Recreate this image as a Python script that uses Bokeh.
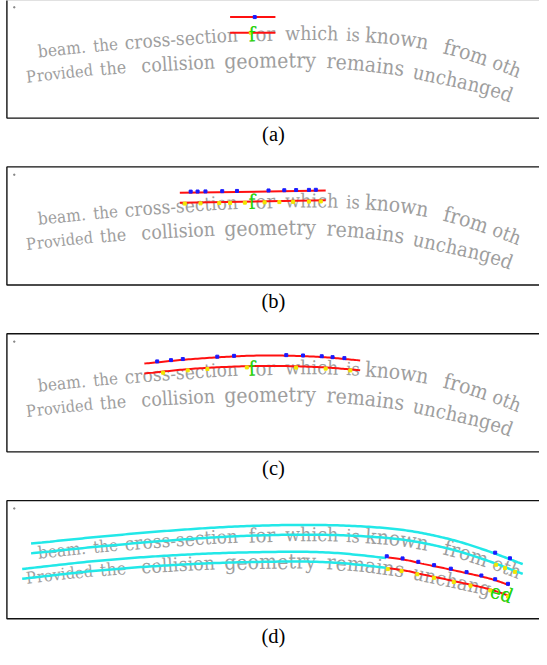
import numpy as np
from bokeh.plotting import figure
from bokeh.models import Range1d, ColumnDataSource
from bokeh.embed import file_html
from bokeh.resources import INLINE
from bokeh.core.properties import value

# ---------------- data (reference pixel coords) ----------------
WORDS1 = ["beam.", "the", "cross-section", "for", "which", "is", "known", "from", "oth"]
WORDS1_X = [38, 94, 126, 252, 289, 351, 370, 450, 500]
WORDS1_PX = [17.5, 17.2, 19.3, 20.5, 19.8, 18.5, 21.5, 21.5, 20]
WORDS2 = ["Provided", "the", "collision", "geometry", "remains", "unchanged"]
WORDS2_X = [26, 101, 143, 227, 331, 419]
WORDS2_PX = [16.6, 18, 19.8, 21.5, 21.5, 20.5]
CAPTIONS = ["(a)", "(b)", "(c)", "(d)"]

# panel frames: top and bottom edge of each framed panel
PANEL_TOP = [-1.0, 170.5, 341.5, 512.5]
PANEL_BOTTOM = [120.5, 291.5, 462.5, 633.5]
CAPTION_Y = [137, 308, 479, 651]
CAPTION_X = 277

# text baselines (x px, y px below panel top)
L1_X = [31, 100, 175, 250, 330, 400, 450, 490, 530]
L1_Y = [54, 47, 40.5, 36, 35, 39, 48, 60, 75]
L2_X = [22, 100, 175, 250, 330, 400, 430, 463, 497, 520]
L2_Y = [80, 71.5, 66, 63, 63, 70, 76, 83, 91, 99]

# (a) detected band: two straight red lines
A_RED_X = [233, 279]
A_RED_UP = [18, 18]
A_RED_LO = [34, 34]
A_BLUE = ([258], [18])
A_YEL = ([254], [34])

# (b) detected band
B_RED_X = [182, 330]
B_RED_UP = [26.5, 24.3]
B_RED_LO = [36.7, 34.3]
B_BLUE_X = [193, 200, 208, 225, 240, 272, 288, 300, 313, 320]
B_YEL_X = [187, 203, 222, 233, 248, 268, 283, 297, 313, 325]

# (c) detected band (curved)
C_RED_X = [146, 200, 262, 320, 365]
C_RED_UP = [30.5, 25.5, 22.3, 23.5, 27.3]
C_RED_LO = [40.7, 35.5, 33.0, 34.0, 37.3]
C_BLUE_X = [159, 173, 185, 220, 237, 290, 307, 326, 337, 349]
C_YEL_X = [165, 190, 210, 250, 300, 330, 355]

# (d) cyan lines for both text lines, red band at the end of line 2
D_CYAN1 = (31, 530)
D_CYAN2 = (22, 392)
D_RED2 = (392, 517)
D_BLUE_X = [392, 408, 424, 440, 457, 473, 488, 502, 515]
D_YEL_X = [393, 407, 423, 440, 460, 477, 497, 515]
D_BLUE1_X = [502, 517]
D_YEL1_X = [503, 512, 522]

# DejaVu Serif advance widths (em); condensed face is ~0.9 as wide
W = {'.': .318, '-': .338, 'a': .596, 'b': .640, 'c': .560, 'd': .640,
     'e': .592, 'f': .370, 'g': .640, 'h': .644, 'i': .320, 'k': .610, 'l': .320,
     'm': .948, 'n': .644, 'o': .602, 'r': .478, 's': .513, 't': .402, 'u': .644,
     'v': .565, 'w': .856, 'y': .565, 'P': .733}
CONDENSED = 0.9

REF_W, REF_H = 547, 665
FIG_W, FIG_H = 539, 649
K = FIG_H / REF_H  # screen px per reference px

GREY = "#9e9e9e"
RED = "#ff1010"
BLUE = "#1a1aff"
YEL = "#f2e600"
CYAN = "#22e8e8"
GREEN = "#22dd00"
FONT = value("DejaVu Serif Condensed")


def smooth(xs, ys):
    P = np.column_stack([xs, ys]).astype(float)
    P = np.vstack([2 * P[0] - P[1], P, 2 * P[-1] - P[-2]])
    out = []
    for i in range(1, len(P) - 2):
        p0, p1, p2, p3 = P[i - 1], P[i], P[i + 1], P[i + 2]
        for t in np.linspace(0, 1, 25, endpoint=False):
            t2, t3 = t * t, t * t * t
            out.append(0.5 * (2 * p1 + (-p0 + p2) * t + (2 * p0 - 5 * p1 + 4 * p2 - p3) * t2
                              + (-p0 + 3 * p1 - 3 * p2 + p3) * t3))
    out.append(P[-2])
    a = np.array(out)
    return a[:, 0], a[:, 1]


C1X, C1Y = smooth(L1_X, L1_Y)
C2X, C2Y = smooth(L2_X, L2_Y)
S1 = np.gradient(C1Y, C1X)
S2 = np.gradient(C2Y, C2X)


def layout(words, starts, sizes, cx, cy, sl):
    rows = dict(x=[], y=[], a=[], t=[], fs=[], w=[])
    for wi, (word, x, size) in enumerate(zip(words, starts, sizes)):
        x = float(x)
        for ch in word:
            th = np.arctan(np.interp(x, cx, sl))
            rows["x"].append(x)
            rows["y"].append(float(np.interp(x, cx, cy)))
            rows["a"].append(-th)
            rows["t"].append(ch)
            rows["fs"].append(f"{size * K:.2f}px")
            rows["w"].append(wi)
            x += W.get(ch, 0.6) * CONDENSED * size * np.cos(th)
    return {k: np.array(v) if k in ("x", "y", "a", "w") else v for k, v in rows.items()}


T1 = layout(WORDS1, WORDS1_X, WORDS1_PX, C1X, C1Y, S1)
T2 = layout(WORDS2, WORDS2_X, WORDS2_PX, C2X, C2Y, S2)

p = figure(width=FIG_W, height=FIG_H, x_range=Range1d(0, REF_W), y_range=Range1d(REF_H, 0),
           output_backend="svg", toolbar_location=None, min_border=0,
           x_axis_location=None, y_axis_location=None)
p.grid.visible = False
p.outline_line_color = None
p.background_fill_color = "white"
p.border_fill_color = "white"

# frames
p.quad(left=[6.5] * 4, right=[600] * 4, top=PANEL_TOP, bottom=PANEL_BOTTOM,
       fill_color=None, line_color="#111111", line_width=1.4)
# tiny speck in corner of each panel
p.scatter(x=[14] * 4, y=[t + 8 for t in PANEL_TOP], size=1.2, marker="square",
          color="#888888")
# captions
p.text(x=[CAPTION_X] * 4, y=CAPTION_Y, text=CAPTIONS,
       text_font=value("Liberation Serif"), text_font_size=f"{21 * K:.1f}px",
       text_color="black", text_align="center", text_baseline="middle")


def sub(T, idx, top):
    return dict(x=T["x"][idx], y=T["y"][idx] + top, a=T["a"][idx],
                t=[T["t"][i] for i in idx], fs=[T["fs"][i] for i in idx])


fi = [int(np.where(T1["w"] == WORDS1.index("for"))[0][0])]
ed = list(range(len(T2["t"]) - 2, len(T2["t"])))

for k, top in enumerate(PANEL_TOP):
    for T in (T1, T2):
        idx = list(range(len(T["t"])))
        p.text(x="x", y="y", angle="a", text="t", text_font_size="fs",
               source=ColumnDataSource(sub(T, idx, top)), text_font=FONT,
               text_color=GREY, text_align="left", text_baseline="alphabetic")

    if k == 0:
        for yy in (A_RED_UP, A_RED_LO):
            p.line(A_RED_X, [v + top for v in yy], line_color=RED, line_width=2)
        p.scatter(A_BLUE[0], [v + top for v in A_BLUE[1]], size=3, marker="square", color=BLUE)
        p.scatter(A_YEL[0], [v + top for v in A_YEL[1]], size=3, marker="square", color=YEL)
    elif k == 1:
        for yy in (B_RED_UP, B_RED_LO):
            p.line(B_RED_X, [v + top for v in yy], line_color=RED, line_width=2)
        p.scatter(B_BLUE_X, np.interp(B_BLUE_X, B_RED_X, B_RED_UP) + top - 1, size=3,
                  marker="square", color=BLUE)
        p.scatter(B_YEL_X, np.interp(B_YEL_X, B_RED_X, B_RED_LO) + top + 1, size=3,
                  marker="square", color=YEL)
    elif k == 2:
        for yy in (C_RED_UP, C_RED_LO):
            cx, cy = smooth(C_RED_X, yy)
            p.line(cx, cy + top, line_color=RED, line_width=2)
        p.scatter(C_BLUE_X, np.interp(C_BLUE_X, C_RED_X, C_RED_UP) + top - 1, size=3,
                  marker="square", color=BLUE)
        p.scatter(C_YEL_X, np.interp(C_YEL_X, C_RED_X, C_RED_LO) + top + 1, size=3,
                  marker="square", color=YEL)
    else:
        m1 = (C1X >= D_CYAN1[0]) & (C1X <= D_CYAN1[1])
        p.line(C1X[m1], C1Y[m1] + top - 10, line_color=CYAN, line_width=2.5)
        p.line(C1X[m1], C1Y[m1] + top, line_color=CYAN, line_width=2.5)
        m2 = (C2X >= D_CYAN2[0]) & (C2X <= D_CYAN2[1])
        p.line(C2X[m2], C2Y[m2] + top - 10, line_color=CYAN, line_width=2.5)
        p.line(C2X[m2], C2Y[m2] + top, line_color=CYAN, line_width=2.5)
        m3 = (C2X >= D_RED2[0]) & (C2X <= D_RED2[1])
        p.line(C2X[m3], C2Y[m3] + top - 11, line_color=RED, line_width=2)
        p.line(C2X[m3], C2Y[m3] + top, line_color=RED, line_width=2)
        p.scatter(D_BLUE_X, np.interp(D_BLUE_X, C2X, C2Y) + top - 12, size=3,
                  marker="square", color=BLUE)
        p.scatter(D_YEL_X, np.interp(D_YEL_X, C2X, C2Y) + top + 1, size=3,
                  marker="square", color=YEL)
        p.scatter(D_BLUE1_X, np.interp(D_BLUE1_X, C1X, C1Y) + top - 11, size=3,
                  marker="square", color=BLUE)
        p.scatter(D_YEL1_X, np.interp(D_YEL1_X, C1X, C1Y) + top + 1, size=3,
                  marker="square", color=YEL)
        p.text(x="x", y="y", angle="a", text="t", text_font_size="fs",
               source=ColumnDataSource(sub(T2, ed, top)), text_font=FONT,
               text_color=GREEN, text_align="left", text_baseline="alphabetic")

    if k < 3:
        p.text(x="x", y="y", angle="a", text="t", text_font_size="fs",
               source=ColumnDataSource(sub(T1, fi, top)), text_font=FONT,
               text_color=GREEN, text_align="left", text_baseline="alphabetic")

open("out.html", "w").write(file_html(p, INLINE))
